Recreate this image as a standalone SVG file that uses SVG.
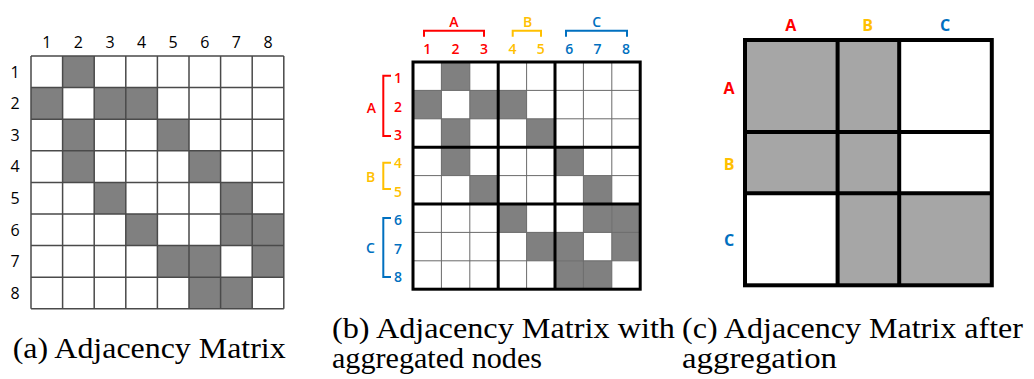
<svg xmlns="http://www.w3.org/2000/svg" width="1034" height="379" viewBox="0 0 1034 379">
<style>
.lbl{font-family:"Open Sans","Liberation Sans",sans-serif;text-anchor:middle;fill:#000}
.la{font-size:16px}
.lb{font-size:14px;font-weight:600}
.lc{font-size:16px;font-weight:700}
.red{fill:#FF0000}.gold{fill:#FFC000}.blue{fill:#0070C0}
.bred{stroke:#FF0000}.bgold{stroke:#FFC000}.bblue{stroke:#0070C0}
.br{fill:none;stroke-width:2}
.cap{font-family:"Liberation Serif","DejaVu Serif",serif;font-size:29px;fill:#000}
.sa{fill:#808080}
.sc{fill:#A6A6A6}
</style>
<rect width="1034" height="379" fill="#fff"/>

<g id="panel-a">
  <rect x="31" y="56" width="252.8" height="252.8" fill="#fff"/>
  <g class="sa">
    <rect x="62.6" y="56" width="31.6" height="31.6"/>
    <rect x="31" y="87.6" width="31.6" height="31.6"/>
    <rect x="94.2" y="87.6" width="31.6" height="31.6"/>
    <rect x="125.8" y="87.6" width="31.6" height="31.6"/>
    <rect x="62.6" y="119.2" width="31.6" height="31.6"/>
    <rect x="157.4" y="119.2" width="31.6" height="31.6"/>
    <rect x="62.6" y="150.8" width="31.6" height="31.6"/>
    <rect x="189" y="150.8" width="31.6" height="31.6"/>
    <rect x="94.2" y="182.4" width="31.6" height="31.6"/>
    <rect x="220.6" y="182.4" width="31.6" height="31.6"/>
    <rect x="125.8" y="214" width="31.6" height="31.6"/>
    <rect x="220.6" y="214" width="31.6" height="31.6"/>
    <rect x="252.2" y="214" width="31.6" height="31.6"/>
    <rect x="157.4" y="245.6" width="31.6" height="31.6"/>
    <rect x="189" y="245.6" width="31.6" height="31.6"/>
    <rect x="252.2" y="245.6" width="31.6" height="31.6"/>
    <rect x="189" y="277.2" width="31.6" height="31.6"/>
    <rect x="220.6" y="277.2" width="31.6" height="31.6"/>
  </g>
  <path fill="none" stroke="#4a4a4a" stroke-width="1.5" d="M31 56V308.8M62.6 56V308.8M94.2 56V308.8M125.8 56V308.8M157.4 56V308.8M189 56V308.8M220.6 56V308.8M252.2 56V308.8M283.8 56V308.8M31 56H283.8M31 87.6H283.8M31 119.2H283.8M31 150.8H283.8M31 182.4H283.8M31 214H283.8M31 245.6H283.8M31 277.2H283.8M31 308.8H283.8"/>
  <g class="lbl la">
    <text x="46.8" y="48">1</text><text x="78.4" y="48">2</text><text x="110" y="48">3</text><text x="141.6" y="48">4</text>
    <text x="173.2" y="48">5</text><text x="204.8" y="48">6</text><text x="236.4" y="48">7</text><text x="268" y="48">8</text>
    <text x="15" y="77.6">1</text><text x="15" y="109.2">2</text><text x="15" y="140.8">3</text><text x="15" y="172.4">4</text>
    <text x="15" y="204">5</text><text x="15" y="235.6">6</text><text x="15" y="267.2">7</text><text x="15" y="298.8">8</text>
  </g>
</g>

<g id="panel-b">
  <rect x="413" y="62" width="227.2" height="227.2" fill="#fff"/>
  <g class="sa">
    <rect x="441.4" y="62" width="28.4" height="28.4"/>
    <rect x="413" y="90.4" width="28.4" height="28.4"/>
    <rect x="469.8" y="90.4" width="28.4" height="28.4"/>
    <rect x="498.2" y="90.4" width="28.4" height="28.4"/>
    <rect x="441.4" y="118.8" width="28.4" height="28.4"/>
    <rect x="526.6" y="118.8" width="28.4" height="28.4"/>
    <rect x="441.4" y="147.2" width="28.4" height="28.4"/>
    <rect x="555" y="147.2" width="28.4" height="28.4"/>
    <rect x="469.8" y="175.6" width="28.4" height="28.4"/>
    <rect x="583.4" y="175.6" width="28.4" height="28.4"/>
    <rect x="498.2" y="204" width="28.4" height="28.4"/>
    <rect x="583.4" y="204" width="28.4" height="28.4"/>
    <rect x="611.8" y="204" width="28.4" height="28.4"/>
    <rect x="526.6" y="232.4" width="28.4" height="28.4"/>
    <rect x="555" y="232.4" width="28.4" height="28.4"/>
    <rect x="611.8" y="232.4" width="28.4" height="28.4"/>
    <rect x="555" y="260.8" width="28.4" height="28.4"/>
    <rect x="583.4" y="260.8" width="28.4" height="28.4"/>
  </g>
  <path fill="none" stroke="#6a6a6a" stroke-width="1" d="M441.4 62V289.2M469.8 62V289.2M526.6 62V289.2M583.4 62V289.2M611.8 62V289.2M413 90.4H640.2M413 118.8H640.2M413 175.6H640.2M413 232.4H640.2M413 260.8H640.2"/>
  <path fill="none" stroke="#000" stroke-width="3" d="M498.2 62V289.2M555 62V289.2M413 147.2H640.2M413 204H640.2"/>
  <rect x="413" y="62" width="227.2" height="227.2" fill="none" stroke="#000" stroke-width="3"/>
  <g class="br">
    <path class="bred" d="M424 36.7V30.7H484V36.7"/>
    <path class="bgold" d="M512.7 36.7V30.7H541V36.7"/>
    <path class="bblue" d="M566 36.7V30.7H627V36.7"/>
    <path class="bred" d="M391 75.7H383.3V136H391"/>
    <path class="bgold" d="M391 162.7H383.3V189H391"/>
    <path class="bblue" d="M391 218H383.3V277H391"/>
  </g>
  <g class="lbl lb">
    <text class="red" x="454" y="27">A</text>
    <text class="gold" x="527.7" y="27">B</text>
    <text class="blue" x="596.7" y="27">C</text>
    <text class="red" x="427.2" y="54">1</text><text class="red" x="455.6" y="54">2</text><text class="red" x="484" y="54">3</text>
    <text class="gold" x="512.4" y="54">4</text><text class="gold" x="540.8" y="54">5</text>
    <text class="blue" x="569.2" y="54">6</text><text class="blue" x="597.6" y="54">7</text><text class="blue" x="626" y="54">8</text>
    <text class="red" x="371.5" y="112.5">A</text>
    <text class="gold" x="370.5" y="181.5">B</text>
    <text class="blue" x="370.5" y="253">C</text>
    <text class="red" x="398" y="82.5">1</text><text class="red" x="398" y="111.5">2</text><text class="red" x="398" y="140">3</text>
    <text class="gold" x="398" y="168">4</text><text class="gold" x="398" y="197">5</text>
    <text class="blue" x="398" y="225">6</text><text class="blue" x="398" y="253.5">7</text><text class="blue" x="398" y="281.5">8</text>
  </g>
</g>

<g id="panel-c">
  <rect x="745" y="40" width="246.8" height="245.3" fill="#fff"/>
  <g class="sc">
    <rect x="745" y="40" width="92.6" height="92"/>
    <rect x="837.6" y="40" width="61.6" height="92"/>
    <rect x="745" y="132" width="92.6" height="61.3"/>
    <rect x="837.6" y="132" width="61.6" height="61.3"/>
    <rect x="837.6" y="193.3" width="61.6" height="92"/>
    <rect x="899.2" y="193.3" width="92.6" height="92"/>
  </g>
  <path fill="none" stroke="#000" stroke-width="4" d="M837.6 40V285.3M899.2 40V285.3M745 132H991.8M745 193.3H991.8"/>
  <rect x="745" y="40" width="246.8" height="245.3" fill="none" stroke="#000" stroke-width="4"/>
  <g class="lbl lc">
    <text class="red" x="790.7" y="31">A</text>
    <text class="gold" x="867.7" y="31">B</text>
    <text class="blue" x="945" y="31">C</text>
    <text class="red" x="729" y="93.5">A</text>
    <text class="gold" x="729" y="169.5">B</text>
    <text class="blue" x="729" y="246">C</text>
  </g>
</g>

<g id="captions" class="cap">
  <text x="12.7" y="358" textLength="273" lengthAdjust="spacingAndGlyphs">(a) Adjacency Matrix</text>
  <text x="332" y="338" textLength="343" lengthAdjust="spacingAndGlyphs">(b) Adjacency Matrix with</text>
  <text x="332" y="368" textLength="210" lengthAdjust="spacingAndGlyphs">aggregated nodes</text>
  <text x="682" y="338" textLength="341" lengthAdjust="spacingAndGlyphs">(c) Adjacency Matrix after</text>
  <text x="682" y="368" textLength="155" lengthAdjust="spacingAndGlyphs">aggregation</text>
</g>
</svg>
